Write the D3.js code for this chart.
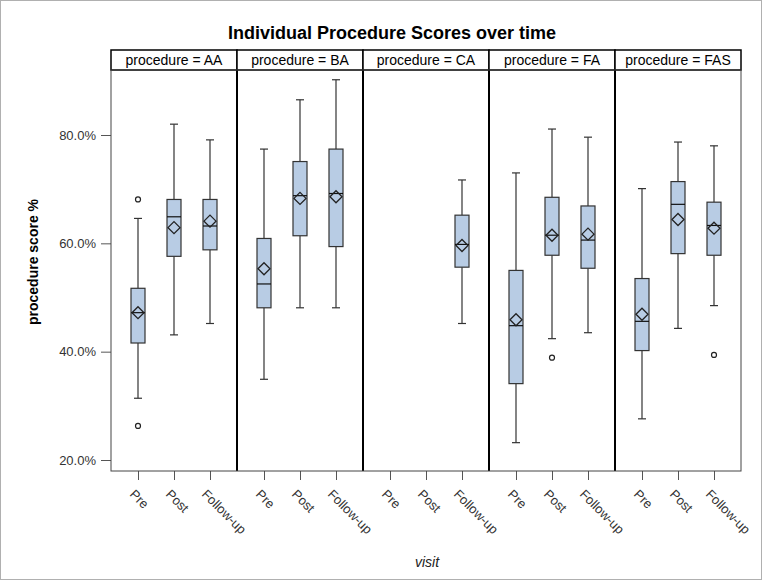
<!DOCTYPE html>
<html>
<head>
<meta charset="utf-8">
<script src="https://cdn.jsdelivr.net/npm/d3@7"></script>
<style>
body { margin: 0; background: #fff; }
svg { font-family: "Liberation Sans", Arial, sans-serif; }
</style>
</head>
<body>
<svg width="762" height="580"></svg>
<script>
const procedures = ["AA", "BA", "CA", "FA", "FAS"];
const visits = ["Pre", "Post", "Follow-up"];
const y_ticks = [20, 40, 60, 80];

// box stats per procedure (rows) and visit (cols), null = no data
const whisker_low = [[31.4, 43.1, 45.2], [34.9, 48.1, 48.1], [null, null, 45.2], [23.2, 42.4, 43.5], [27.6, 44.3, 48.5]];
const q1 = [[41.6, 57.6, 58.8], [48.1, 61.4, 59.4], [null, null, 55.6], [34.1, 57.8, 55.4], [40.2, 58.1, 57.8]];
const median = [[47.2, 64.9, 63.2], [52.5, 68.8, 69.2], [null, null, 59.8], [44.8, 61.5, 60.6], [45.6, 67.2, 63.3]];
const q3 = [[51.7, 68.1, 68.1], [60.9, 75.1, 77.4], [null, null, 65.2], [55.0, 68.5, 66.9], [53.5, 71.4, 67.6]];
const whisker_high = [[64.6, 82.0, 79.1], [77.4, 86.5, 90.2], [null, null, 71.7], [73.0, 81.1, 79.6], [70.1, 78.7, 78.0]];
const mean = [[47.2, 62.9, 64.1], [55.3, 68.3, 68.6], [null, null, 59.6], [45.9, 61.5, 61.7], [46.9, 64.4, 62.8]];
const outliers = [["AA", "Pre", 68.1], ["AA", "Pre", 26.3], ["FA", "Post", 38.9], ["FAS", "Follow-up", 39.4]];

var svg = d3.select("svg");

var p_left = 111, p_right = 741, p_top = 70, p_bottom = 471, strip = 20;
var panel_w = (p_right - p_left) / procedures.length;

var y = d3.scaleLinear().domain([20, 80]).range([460, 135]);
var px = d3.scaleBand().domain(procedures).range([p_left, p_right]);
var vx = d3.scalePoint().domain(visits).range([0, panel_w]).padding(0.75);

// outer frame of the image
svg.append("rect").attr("x", 0.5).attr("y", 0.5).attr("width", 761).attr("height", 579)
	.attr("fill", "none").attr("stroke", "#b0b0b0");

svg.append("text")
	.attr("x", 392).attr("y", 39)
	.attr("text-anchor", "middle")
	.attr("font-size", "18px").attr("font-weight", "bold")
	.text("Individual Procedure Scores over time");

// y axis
var yaxis = svg.append("g")
	.attr("transform", "translate(" + p_left + ",0)")
	.call(d3.axisLeft(y).tickValues(y_ticks).tickSize(10).tickPadding(5).tickFormat(d => d.toFixed(1) + "%"));
yaxis.select(".domain").remove();
yaxis.selectAll("line").attr("stroke", "#555");
yaxis.selectAll("text").attr("font-size", "13px").attr("fill", "#333").attr("font-family", "Liberation Sans, Arial, sans-serif");

svg.append("text")
	.attr("transform", "translate(38,262) rotate(-90)")
	.attr("text-anchor", "middle")
	.attr("font-size", "14px").attr("font-weight", "bold")
	.text("procedure score %");

svg.append("text")
	.attr("x", 427).attr("y", 567)
	.attr("text-anchor", "middle")
	.attr("font-size", "14px").attr("font-style", "italic").attr("fill", "#222")
	.text("visit");

procedures.forEach(function(p, i) {
	var g = svg.append("g").attr("transform", "translate(" + px(p) + ",0)");

	// strip header
	g.append("rect").attr("x", 0).attr("y", p_top - strip).attr("width", panel_w).attr("height", strip)
		.attr("fill", "#fff").attr("stroke", "#000").attr("stroke-width", 1.5);
	g.append("text")
		.attr("x", panel_w / 2).attr("y", p_top - 5)
		.attr("text-anchor", "middle").attr("font-size", "14px")
		.text("procedure = " + p);

	// x axis ticks and rotated labels
	var xaxis = g.append("g")
		.attr("transform", "translate(0," + p_bottom + ")")
		.call(d3.axisBottom(vx).tickSize(9).tickFormat(""));
	xaxis.select(".domain").remove();
	xaxis.selectAll("line").attr("stroke", "#555");
	visits.forEach(function(v) {
		g.append("text")
			.attr("transform", "translate(" + (vx(v) - 9) + "," + (p_bottom + 24) + ") rotate(45)")
			.attr("font-size", "13px").attr("fill", "#333")
			.text(v);
	});

	visits.forEach(function(v, j) {
		if (median[i][j] == null) return;
		var cx = vx(v), bw = 14, cap = 8;
		var b = g.append("g").attr("stroke", "#333").attr("stroke-width", 1.2);
		b.append("line").attr("x1", cx).attr("x2", cx).attr("y1", y(whisker_high[i][j])).attr("y2", y(q3[i][j]));
		b.append("line").attr("x1", cx).attr("x2", cx).attr("y1", y(q1[i][j])).attr("y2", y(whisker_low[i][j]));
		b.append("line").attr("x1", cx - cap / 2).attr("x2", cx + cap / 2).attr("y1", y(whisker_high[i][j])).attr("y2", y(whisker_high[i][j]));
		b.append("line").attr("x1", cx - cap / 2).attr("x2", cx + cap / 2).attr("y1", y(whisker_low[i][j])).attr("y2", y(whisker_low[i][j]));
		b.append("rect")
			.attr("x", cx - bw / 2).attr("y", y(q3[i][j]))
			.attr("width", bw).attr("height", y(q1[i][j]) - y(q3[i][j]))
			.attr("fill", "#b8cce4");
		b.append("line").attr("x1", cx - bw / 2).attr("x2", cx + bw / 2).attr("y1", y(median[i][j])).attr("y2", y(median[i][j]))
			.attr("stroke", "#111");
		var my = y(mean[i][j]), d = 6;
		b.append("path")
			.attr("d", "M" + (cx - d) + "," + my + "L" + cx + "," + (my - d) + "L" + (cx + d) + "," + my + "L" + cx + "," + (my + d) + "Z")
			.attr("fill", "none").attr("stroke", "#222").attr("stroke-width", 1.3);
	});

	outliers.filter(o => o[0] == p).forEach(function(o) {
		g.append("circle")
			.attr("cx", vx(o[1])).attr("cy", y(o[2])).attr("r", 2.5)
			.attr("fill", "none").attr("stroke", "#222").attr("stroke-width", 1.2);
	});

	// panel separator
	if (i > 0) {
		g.append("line").attr("x1", 0).attr("x2", 0).attr("y1", p_top).attr("y2", p_bottom)
			.attr("stroke", "#000").attr("stroke-width", 2);
	}
});

// outer plot frame
svg.append("rect").attr("x", p_left).attr("y", p_top).attr("width", p_right - p_left).attr("height", p_bottom - p_top)
	.attr("fill", "none").attr("stroke", "#444").attr("stroke-width", 1);
</script>
</body>
</html>
